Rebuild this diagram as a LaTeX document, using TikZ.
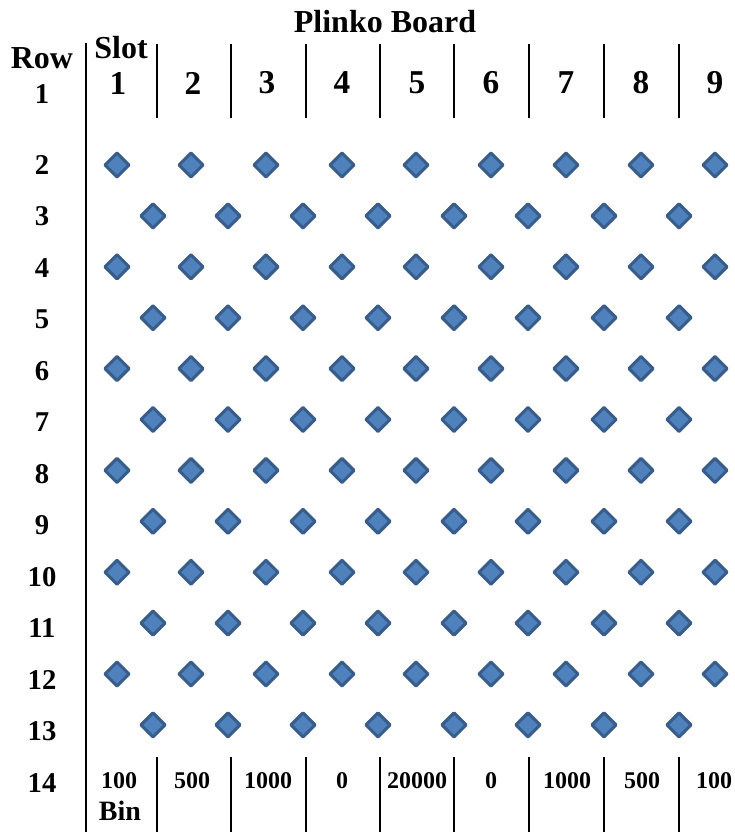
\documentclass[tikz,border=0pt]{standalone}
\usepackage{fontspec}
\setmainfont{Liberation Serif}
\usetikzlibrary{shapes.geometric}
\definecolor{pegfill}{HTML}{4F81BD}
\definecolor{pegline}{HTML}{385D8A}
\begin{document}
\begin{tikzpicture}[x=0.75pt,y=-0.75pt,
  peg/.style={diamond,draw=pegline,fill=pegfill,line width=2.3pt,inner sep=0pt,minimum size=19pt,line join=round},
  title/.style={font=\fontsize{24}{28}\selectfont\bfseries,inner sep=0pt},
  slotnum/.style={font=\fontsize{25}{30}\selectfont\bfseries,inner sep=0pt},
  rowlab/.style={font=\fontsize{21.5}{26}\selectfont\bfseries,inner sep=0pt},
  binval/.style={font=\fontsize{18}{22}\selectfont\bfseries,inner sep=0pt},
  mainline/.style={line width=2.2pt},
  sepline/.style={line width=1.2pt}]
\useasboundingbox (0,0) rectangle (735,832);
% title
\node[title] (title) at (385,22) {Plinko Board};
\node[title] (rowhdr) at (42,58) {Row};
\node[title] (slothdr) at (121,48) {Slot};
% main vertical line
\coordinate (mtop) at (86,43);
\coordinate (mbot) at (86,832);
\draw[mainline] (mtop) -- (mbot);
% header separators and bottom separators
\foreach \i/\x in {1/157,2/231,3/306,4/380,5/454,6/529,7/604,8/679}{
  \coordinate (ht\i) at (\x,44);
  \coordinate (hb\i) at (\x,118);
  \draw[sepline] (ht\i) -- (hb\i);
  \coordinate (bt\i) at (\x,757);
  \coordinate (bb\i) at (\x,832);
  \draw[sepline] (bt\i) -- (bb\i);
}
% slot numbers
\foreach \n/\x in {1/118,2/193,3/267,4/342,5/417,6/491,7/566,8/641,9/715}{
  \node[slotnum] (slot\n) at (\x,83) {\n};
}
% row labels
\node[rowlab] (row1) at (42,94) {1};
\foreach \r in {2,...,14}{
  \node[rowlab] (row\r) at (42,{165+51.5*(\r-2)}) {\r};
}
% pegs
\foreach \r in {2,4,...,12}{
  \foreach \c/\x in {1/117,2/191,3/266,4/342,5/416,6/491,7/566,8/641,9/715}{
    \node[peg] (p-\r-\c) at (\x,{165+50.9*(\r-2)}) {};
  }
}
\foreach \r in {3,5,...,13}{
  \foreach \c/\x in {1/153,2/228,3/303,4/378,5/454,6/528,7/604,8/679}{
    \node[peg] (p-\r-\c) at (\x,{165+50.9*(\r-2)}) {};
  }
}
% bin values
\foreach \n/\x/\v in {1/119/100,2/192/500,3/268/1000,4/342/0,5/417/20000,6/491/0,7/567/1000,8/642/500,9/714/100}{
  \node[binval] (bin\n) at (\x,781) {\v};
}
\node[font=\fontsize{21}{25}\selectfont\bfseries,inner sep=0pt] (binlab) at (120,811) {Bin};
\end{tikzpicture}
\end{document}
